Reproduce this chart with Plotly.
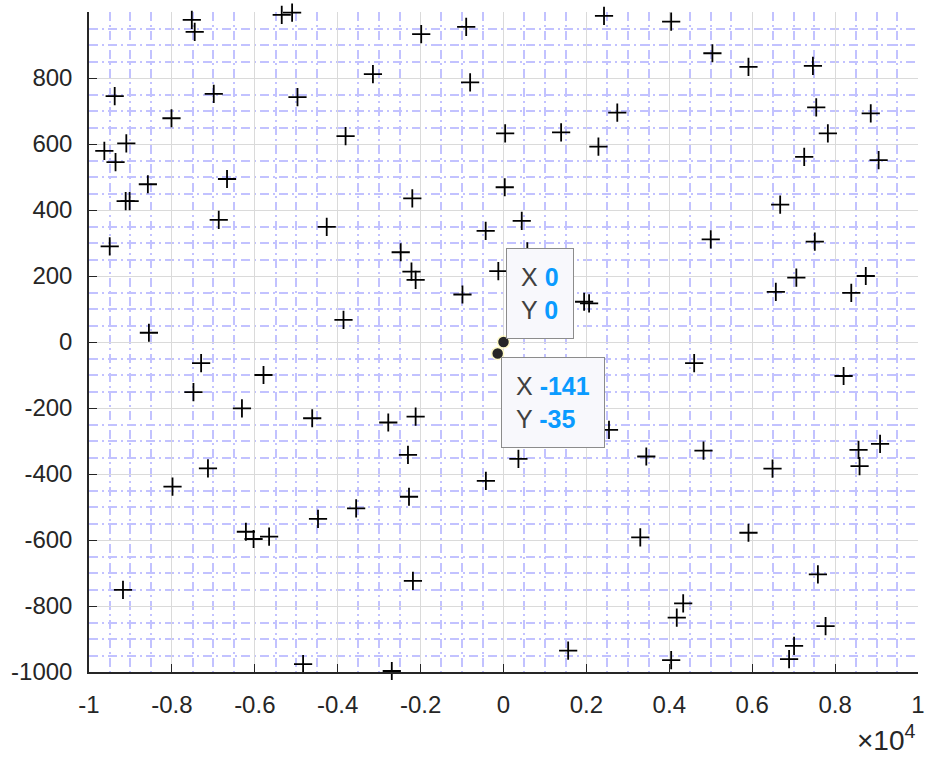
import numpy as np
import plotly.graph_objects as go

# ---- data ----
x_vals = [-7520, -7450, -5350, -5100, -9380, -6990, -4970, -8010, -9630, -9100,
          -9360, -8580, -6670, -9115, -9020, -6870, -9500, -1985, -900, 2425,
          -3150, -805, -3810, 40, 1390, 2290, -2200, 30, 440, -4265,
          -430, 4045, 5040, 5910, 7465, 2745, 7545, 8860, 7825, 7255,
          9050, 6675, 5000, 7510, -8555, -7295, -7480, -5790, -6310, -4615,
          -7130, -7985, -2480, -2220, -2120, -990, -125, 575, -3860, 1945,
          2065, -2780, -2120, -2305, 360, 2545, -425, 7065, 6570, 8740,
          8390, 4600, 8205, 3445, 4825, 6490, 8565, 9085, 8590, -6215,
          -6030, -5655, -9180, -4835, -4475, -3555, -2280, -2185, -2695, 1560,
          3300, 5910, 7585, 4335, 4180, 7770, 7010, 6890, 4045]
y_vals = [976, 940, 991, 998, 745, 752, 742, 678, 579, 602,
          545, 478, 494, 427, 427, 370, 290, 933, 955, 988,
          812, 787, 624, 632, 635, 592, 435, 469, 367, 349,
          337, 971, 875, 834, 837, 695, 711, 693, 632, 561,
          551, 416, 311, 304, 28, -64, -152, -100, -201, -231,
          -383, -438, 272, 213, 188, 144, 215, 275, 67, 122,
          117, -244, -226, -342, -354, -266, -421, 195, 152, 200,
          149, -64, -103, -347, -329, -384, -327, -309, -376, -575,
          -597, -590, -751, -976, -536, -504, -469, -724, -997, -935,
          -592, -578, -704, -792, -835, -861, -921, -961, -964]

tip_x = [0, -141]
tip_y = [0, -35]

x_tick_vals = [-10000, -8000, -6000, -4000, -2000, 0, 2000, 4000, 6000, 8000, 10000]
x_tick_text = ["-1", "-0.8", "-0.6", "-0.4", "-0.2", "0", "0.2", "0.4", "0.6", "0.8", "1"]
y_tick_vals = [-1000, -800, -600, -400, -200, 0, 200, 400, 600, 800]
y_tick_text = ["-1000", "-800", "-600", "-400", "-200", "0", "200", "400", "600", "800"]

FONT = "Liberation Sans, Arial, Helvetica, sans-serif"
AX = "#262626"
GRID = "#dadada"
MINOR = "#c2c2ff"
DASH = "9px,4px,2px,4px"

x_minor = [v for v in np.arange(-10000, 10001, 500) if v % 2000 != 0]
y_minor = [v for v in np.arange(-1000, 1001, 50) if v % 200 != 0] + [1000]

fig = go.Figure()
fig.add_trace(go.Scatter(
    x=x_vals, y=y_vals, mode="markers", cliponaxis=False,
    marker=dict(symbol="cross-thin", size=13, color="black",
                line=dict(color="black", width=1.8)),
    hoverinfo="skip", showlegend=False))
fig.add_trace(go.Scatter(
    x=tip_x, y=tip_y, mode="markers", cliponaxis=False,
    marker=dict(symbol="circle", size=12, color="#262626",
                line=dict(color="#fffbc8", width=1.5)),
    hoverinfo="skip", showlegend=False))

val_col = "#0a9bff"
lab_col = "#404040"
def tip_text(xv, yv):
    return (f"<span style='color:{lab_col}'>X </span><b style='color:{val_col}'>{xv}</b><br>"
            f"<span style='color:{lab_col}'>Y </span><b style='color:{val_col}'>{yv}</b>")

fig.add_annotation(x=tip_x[0], y=tip_y[0], text=tip_text(tip_x[0], tip_y[0]),
                   showarrow=False, xanchor="left", yanchor="bottom", xshift=2, yshift=3,
                   align="left", bgcolor="#f8f8fc", bordercolor="#8c8c8c", borderwidth=1,
                   borderpad=14, font=dict(family=FONT, size=25, color=lab_col))
fig.add_annotation(x=tip_x[1], y=tip_y[1], text=tip_text(tip_x[1], tip_y[1]),
                   showarrow=False, xanchor="left", yanchor="top", xshift=3, yshift=-3,
                   align="left", bgcolor="#f8f8fc", bordercolor="#8c8c8c", borderwidth=1,
                   borderpad=14, font=dict(family=FONT, size=25, color=lab_col))
fig.add_annotation(xref="paper", yref="paper", x=1, y=0, xanchor="right", yanchor="top",
                   yshift=-46, xshift=0, showarrow=False,
                   text="×10<sup>4</sup>", font=dict(family=FONT, size=28, color=AX))

fig.update_xaxes(range=[-10000, 10000], tickmode="array", tickvals=x_tick_vals,
                 ticktext=x_tick_text, ticks="inside", ticklen=8, tickwidth=1.2,
                 tickcolor=AX, showline=True, linecolor=AX, linewidth=1.5,
                 showgrid=True, gridcolor=GRID, gridwidth=1.2, zeroline=False,
                 ticklabelstandoff=10,
                 tickfont=dict(family=FONT, size=24, color=AX),
                 minor=dict(tickmode="array", tickvals=x_minor, showgrid=True,
                            gridcolor=MINOR, gridwidth=1.5, griddash=DASH, ticks=""))
fig.update_yaxes(range=[-1000, 1000], tickmode="array", tickvals=y_tick_vals,
                 ticktext=y_tick_text, ticks="inside", ticklen=8, tickwidth=1.2,
                 tickcolor=AX, showline=True, linecolor=AX, linewidth=1.5,
                 showgrid=True, gridcolor=GRID, gridwidth=1.2, zeroline=False,
                 ticklabelstandoff=10,
                 tickfont=dict(family=FONT, size=24, color=AX),
                 minor=dict(tickmode="array", tickvals=y_minor, showgrid=True,
                            gridcolor=MINOR, gridwidth=1.5, griddash=DASH, ticks=""))

fig.update_layout(width=932, height=758, autosize=False,
                  margin=dict(l=89, r=7, t=12, b=86),
                  paper_bgcolor="white", plot_bgcolor="white",
                  font=dict(family=FONT, size=24, color=AX))

fig.write_html("out.html")
